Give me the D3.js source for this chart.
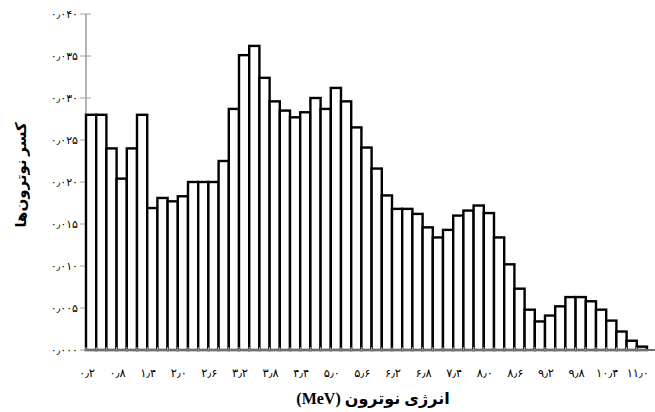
<!DOCTYPE html>
<html lang="fa">
<head>
<meta charset="utf-8">
<script src="https://cdn.jsdelivr.net/npm/d3@7/dist/d3.min.js"></script>
<style>
  html, body { margin: 0; padding: 0; background: #fff; }
  svg { display: block; }
  .tick-label { font-family: "DejaVu Sans", "Noto Sans", sans-serif; fill: #000; }
  .title { font-family: "Liberation Serif", "DejaVu Sans", serif; font-weight: bold; fill: #000; }
</style>
</head>
<body>
<svg id="chart" width="655" height="412"></svg>
<script>
// Neutron energy bins (MeV), one bar per bin
const energies = [
  0.2, 0.4, 0.6, 0.8, 1.0, 1.2, 1.4, 1.6, 1.8, 2.0,
  2.2, 2.4, 2.6, 2.8, 3.0, 3.2, 3.4, 3.6, 3.8, 4.0,
  4.2, 4.4, 4.6, 4.8, 5.0, 5.2, 5.4, 5.6, 5.8, 6.0,
  6.2, 6.4, 6.6, 6.8, 7.0, 7.2, 7.4, 7.6, 7.8, 8.0,
  8.2, 8.4, 8.6, 8.8, 9.0, 9.2, 9.4, 9.6, 9.8, 10.0,
  10.2, 10.4, 10.6, 10.8, 11.0
];

// Fraction of neutrons in each bin
const fractions = [
  0.0280, 0.0280, 0.0240, 0.0204, 0.0240, 0.0280, 0.0169, 0.0181, 0.0177, 0.0183,
  0.0200, 0.0200, 0.0200, 0.0225, 0.0287, 0.0351, 0.0362, 0.0324, 0.0296, 0.0285,
  0.0277, 0.0283, 0.0300, 0.0287, 0.0312, 0.0296, 0.0265, 0.0241, 0.0216, 0.0184,
  0.0168, 0.0168, 0.0162, 0.0146, 0.0134, 0.0143, 0.0160, 0.0166, 0.0172, 0.0163,
  0.0134, 0.0102, 0.0073, 0.0048, 0.0034, 0.0041, 0.0052, 0.0063, 0.0063, 0.0058,
  0.0048, 0.0035, 0.0022, 0.0011, 0.0004
];

// Labelled energies along the horizontal axis
const xTickValues = [0.2, 0.8, 1.4, 2.0, 2.6, 3.2, 3.8, 4.4, 5.0, 5.6,
                     6.2, 6.8, 7.4, 8.0, 8.6, 9.2, 9.8, 10.4, 11.0];
// Vertical axis ticks
const yTickValues = [0, 0.005, 0.010, 0.015, 0.020, 0.025, 0.030, 0.035, 0.040];

const xTitle = "انرژی نوترون (MeV)";
const yTitle = "کسر نوترون‌ها";

// Western digits -> Persian digits, "." -> Arabic decimal separator
const persianDigits = "۰۱۲۳۴۵۶۷۸۹";
const toPersian = s => s.replace(/[0-9]/g, d => persianDigits[+d]).replace(".", "٫");

const svg = d3.select("#chart");
const plotLeft = 86, plotRight = 647, plotTop = 14, plotBottom = 350;

const x = d3.scaleBand().domain(energies).range([plotLeft, plotRight]).padding(0);
const y = d3.scaleLinear().domain([0, 0.04]).range([plotBottom, plotTop]);

const data = energies.map((e, i) => ({ e, v: fractions[i] }));

// Vertical axis line
svg.append("line")
  .attr("x1", plotLeft).attr("x2", plotLeft).attr("y1", y(0.04)).attr("y2", plotBottom)
  .attr("stroke", "#9a9a9a").attr("stroke-width", 1.5);

// Y ticks crossing the axis line
svg.append("g").selectAll("line").data(yTickValues).join("line")
  .attr("x1", plotLeft - 6).attr("x2", plotLeft + 5)
  .attr("y1", d => y(d)).attr("y2", d => y(d))
  .attr("stroke", "#a0a0a0").attr("stroke-width", 1);

// Y tick labels
svg.append("g").selectAll("text").data(yTickValues).join("text")
  .attr("class", "tick-label")
  .attr("x", plotLeft - 8).attr("y", d => y(d) + 4)
  .attr("text-anchor", "end")
  .attr("font-size", 11)
  .text(d => toPersian(d3.format(".3f")(d)));

// Bars
svg.append("g").selectAll("rect").data(data).join("rect")
  .attr("x", d => x(d.e))
  .attr("y", d => y(d.v))
  .attr("width", x.bandwidth())
  .attr("height", d => y(0) - y(d.v))
  .attr("fill", "#fff")
  .attr("stroke", "#000")
  .attr("stroke-width", 2.4);

// Baseline
svg.append("line")
  .attr("x1", plotLeft - 1).attr("x2", 655).attr("y1", plotBottom).attr("y2", plotBottom)
  .attr("stroke", "#6e6e6e").attr("stroke-width", 2);

// Small ticks at bin edges along the baseline
svg.append("g").selectAll("line").data(energies).join("line")
  .attr("x1", d => x(d)).attr("x2", d => x(d))
  .attr("y1", plotBottom - 3).attr("y2", plotBottom)
  .attr("stroke", "#b0b0b0").attr("stroke-width", 1);

// X tick labels at the left edge of each labelled bin
svg.append("g").selectAll("text").data(xTickValues).join("text")
  .attr("class", "tick-label")
  .attr("x", d => x(d) + 1)
  .attr("y", 377)
  .attr("text-anchor", "middle")
  .attr("font-size", 11.5)
  .text(d => toPersian(d3.format(".1f")(d)));

// Axis titles
svg.append("text")
  .attr("class", "title")
  .attr("x", 373).attr("y", 404)
  .attr("text-anchor", "middle")
  .attr("font-size", 16)
  .attr("direction", "rtl")
  .text(xTitle);

svg.append("text")
  .attr("class", "title")
  .attr("transform", "translate(26,175) rotate(-90)")
  .attr("text-anchor", "middle")
  .attr("font-size", 15)
  .attr("direction", "rtl")
  .text(yTitle);
</script>
</body>
</html>
